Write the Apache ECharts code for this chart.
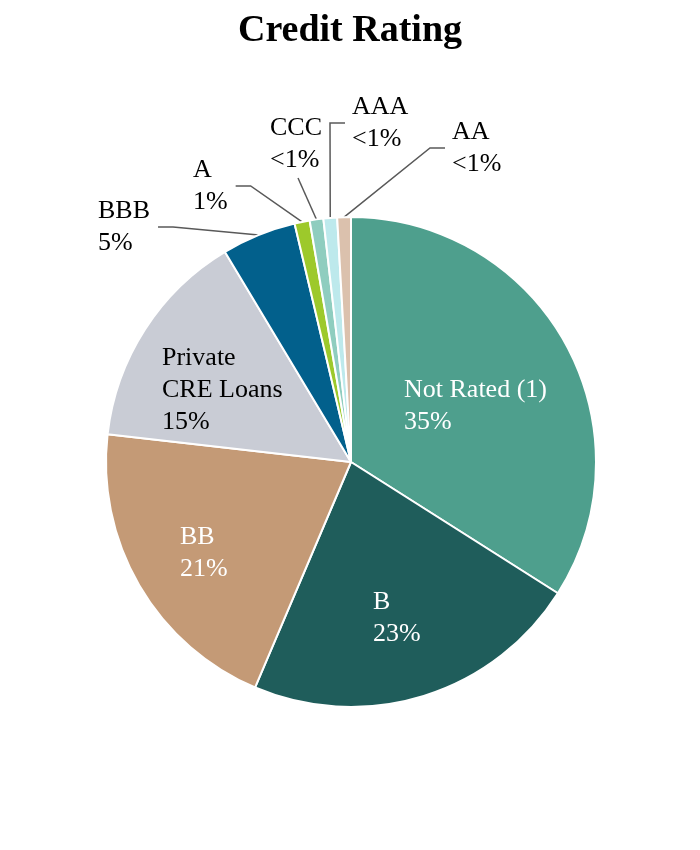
<!DOCTYPE html>
<html>
<head>
<meta charset="utf-8">
<script src="https://cdn.jsdelivr.net/npm/echarts@6/dist/echarts.min.js"></script>
<style>
  html, body { margin: 0; padding: 0; background: #fff; }
  #chart { width: 700px; height: 850px; }
</style>
</head>
<body>
<div id="chart"></div>
<script>
// slices, clockwise from 12 o'clock
const categories = ['Not Rated (1)', 'B', 'BB', 'Private\nCRE Loans', 'BBB', 'A', 'CCC', 'AAA', 'AA'];
const shares = [34.0, 22.4, 20.4, 14.6, 4.9, 1.0, 0.9, 0.9, 0.9];
const shareLabels = ['35%', '23%', '21%', '15%', '5%', '1%', '<1%', '<1%', '<1%'];
const sliceColors = ['#4e9f8d', '#1f5d5b', '#c49a76', '#c9ccd5', '#02608c', '#9dc92b', '#8fcdbf', '#bde9ec', '#dbc1ad'];
const insideSlices = ['Not Rated (1)', 'B', 'BB', 'Private\nCRE Loans'];

/* label placement (top-left of text block) and where the leader line meets it */
const labelSpots = [
  { x: 404, y: 374 },
  { x: 373, y: 586 },
  { x: 180, y: 521 },
  { x: 162, y: 342 },
  { x: 98, y: 195, side: 'right' },
  { x: 193, y: 154, side: 'right' },
  { x: 270, y: 112, side: 'bottom' },
  { x: 352, y: 91, side: 'left' },
  { x: 452, y: 116, side: 'left' }
];

const FONT = "'Liberation Serif', 'Times New Roman', serif";

const chart = echarts.init(document.getElementById('chart'));

const seriesData = categories.map((name, i) => {
  const inside = insideSlices.includes(name);
  return {
    name,
    value: shares[i],
    itemStyle: { color: sliceColors[i] },
    label: {
      position: inside ? 'inside' : 'outside',
      color: name === 'Private\nCRE Loans' || !inside ? '#000' : '#fff'
    },
    labelLine: { show: !inside }
  };
});

chart.setOption({
  animation: false,
  title: {
    text: 'Credit Rating',
    left: 'center',
    top: 7,
    textStyle: { fontFamily: FONT, fontSize: 38, fontWeight: 'bold', color: '#000' }
  },
  series: [
    {
      type: 'pie',
      center: [351, 462],
      radius: 245,
      startAngle: 90,
      clockwise: true,
      avoidLabelOverlap: false,
      itemStyle: { borderColor: '#fff', borderWidth: 2 },
      label: {
        formatter: p => p.name + '\n' + shareLabels[p.dataIndex],
        fontFamily: FONT,
        fontSize: 26,
        lineHeight: 32,
        align: 'left'
      },
      labelLine: {
        show: true,
        lineStyle: { color: '#595959', width: 1.5 }
      },
      labelLayout: params => {
        const spot = labelSpots[params.dataIndex];
        const out = { x: spot.x, y: spot.y, align: 'left', verticalAlign: 'top' };
        if (spot.side && params.labelLinePoints) {
          const w = params.labelRect.width;
          const h = params.labelRect.height;
          const start = params.labelLinePoints[0];
          let end, elbow;
          if (spot.side === 'left') {
            end = [spot.x - 7, spot.y + h / 2];
            elbow = [end[0] - 15, end[1]];
          } else if (spot.side === 'right') {
            end = [spot.x + w + 8, spot.y + h / 2];
            elbow = [end[0] + 15, end[1]];
          } else {
            end = [spot.x + w / 2 + 2, spot.y + h + 2];
            elbow = end;
          }
          out.labelLinePoints = [start, elbow, end];
        }
        return out;
      },
      data: seriesData
    }
  ]
});
</script>
</body>
</html>
